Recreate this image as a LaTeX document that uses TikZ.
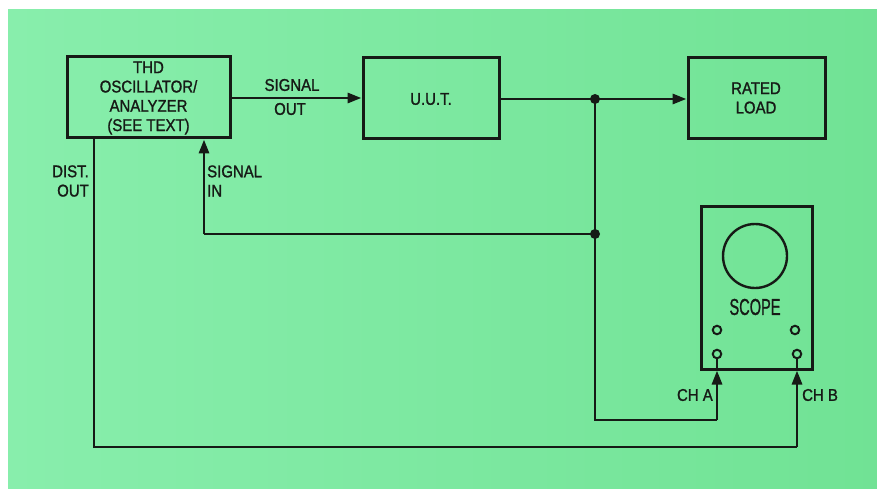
\documentclass[tikz,border=0pt]{standalone}
\usepackage{fontspec}
\setmainfont{Liberation Sans}[FakeStretch=0.88,FakeBold=1.2]
\usetikzlibrary{arrows.meta,calc}
\definecolor{bgL}{RGB}{136,238,172}
\definecolor{bgM}{RGB}{124,232,160}
\definecolor{bgR}{RGB}{112,226,148}
\definecolor{ink}{RGB}{22,26,22}
\tikzset{
  wire/.style={draw=ink,line width=2.9pt},
  arr/.style={wire,-{Triangle[length=14pt,width=10pt]}},
  blk/.style={draw=ink,line width=3pt,rectangle,inner sep=0pt},
  lbl/.style={text=ink,inner sep=0pt,font=\fontsize{17}{19.3}\selectfont},
  jdot/.style={circle,fill=ink,inner sep=0pt,minimum size=10pt},
  port/.style={circle,draw=ink,line width=2pt,inner sep=0pt,minimum size=8.5pt}
}
\begin{document}
\begin{tikzpicture}[x=1pt,y=-1pt]
\useasboundingbox (0,0) rectangle (877,489);
\fill[white] (-20,-20) rectangle (900,510);
\fill[bgM] (8,10) rectangle (900,510);
\shade[left color=bgL,right color=bgR] (8,10) rectangle (900,510);
% blocks
\node[blk,minimum width=163pt,minimum height=81pt] (thd) at (148.5,97.5) {};
\node[lbl,align=center] (thdt) at (148.5,98) {THD\\OSCILLATOR/\\ANALYZER\\(SEE TEXT)};
\node[blk,minimum width=136pt,minimum height=81pt] (uut) at (431,98) {};
\node[lbl] (uutt) at (431,99) {U.U.T.};
\node[blk,minimum width=137pt,minimum height=81pt] (load) at (756.5,98.5) {};
\node[lbl,align=center] (loadt) at (756,98) {RATED\\LOAD};
\node[blk,minimum width=111pt,minimum height=163pt] (scope) at (756.5,287.5) {};
\node[circle,draw=ink,line width=2.4pt,minimum size=64pt,inner sep=0pt] (crt) at (755,256) {};
\node[lbl,font=\fontsize{23}{24}\selectfont] (scopet) at (755,307) {\scalebox{0.72}[1]{SCOPE}};
\node[port] (ta) at (717,330) {};
\node[port] (tb) at (795,330) {};
\node[port] (pa) at (717,354) {};
\node[port] (pb) at (797,354) {};
% coordinates
\coordinate (j1) at (595,99);
\coordinate (j2) at (595,234);
\coordinate (ca) at (595,420);
\coordinate (cb) at (717,420);
\coordinate (sx) at (204,234);
\coordinate (dx) at (94,447);
\coordinate (db) at (797,447);
% connectors
\draw[arr] (thd.east |- 0,98) -- (uut.west |- 0,98);
\draw[wire] (uut.east |- j1) -- (j1);
\draw[arr] (j1) -- (load.west |- j1);
\draw[wire] (j1) -- (ca) -- (cb);
\draw[arr] (cb) -- (cb |- scope.south);
\draw[wire,line width=2.2pt] (cb |- scope.south) -- (pa.south);
\draw[wire] (j2) -- (sx);
\draw[arr] (sx) -- (sx |- thd.south);
\draw[wire] (dx |- thd.south) -- (dx) -- (db);
\draw[arr] (db) -- (db |- scope.south);
\draw[wire,line width=2.2pt] (db |- scope.south) -- (pb.south);
\node[jdot] (d1) at (j1) {};
\node[jdot] (d2) at (j2) {};
% labels
\node[lbl] (so1) at (292,85) {SIGNAL};
\node[lbl] (so2) at (290,109) {OUT};
\node[lbl,align=right,anchor=east] (dist) at (89,181) {DIST.\\OUT};
\node[lbl,align=left,anchor=west] (sin) at (207,181) {SIGNAL\\IN};
\node[lbl,anchor=east] (cha) at (713,395) {CH A};
\node[lbl,anchor=west] (chb) at (802,395) {CH B};
\end{tikzpicture}
\end{document}
